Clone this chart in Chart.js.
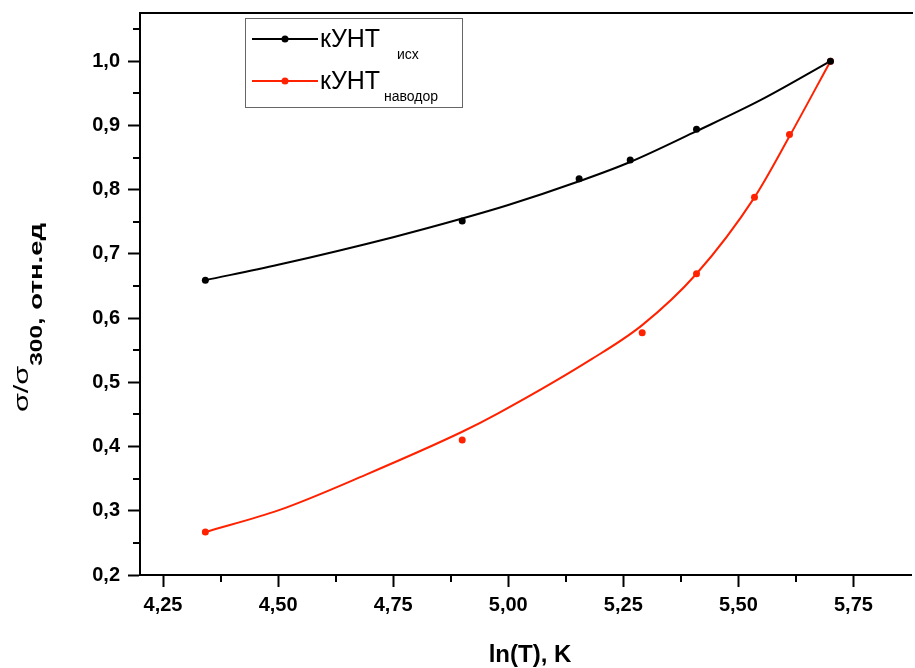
<!DOCTYPE html>
<html lang="ru">
<head>
  <meta charset="UTF-8" />
  <title>σ/σ300 vs ln(T)</title>
  <script src="https://cdn.jsdelivr.net/npm/chart.js"></script>
  <style>
    body { margin: 0; background: #fff; overflow: hidden; }
    .wrap { width: 915px; height: 668px; position: relative; }
  </style>
</head>
<body>
  <div class="wrap"><canvas id="chart"></canvas></div>

  <script>
    // measured points
    const xIsh = [4.342, 4.900, 5.154, 5.265, 5.409, 5.700];
    const yIsh = [0.659, 0.751, 0.817, 0.846, 0.894, 1.000];
    const xNav = [4.342, 4.900, 5.291, 5.409, 5.535, 5.611, 5.700];
    const yNav = [0.267, 0.410, 0.577, 0.669, 0.788, 0.886, 1.000];

    // fitted curves
    const fitXIsh = [4.342, 4.50, 4.75, 4.90, 5.00, 5.154, 5.265, 5.409, 5.55, 5.70];
    const fitYIsh = [0.659, 0.683, 0.726, 0.755, 0.776, 0.813, 0.843, 0.891, 0.940, 1.000];
    const fitXNav = [4.342, 4.502, 4.690, 4.900, 4.979, 5.181, 5.291, 5.409, 5.535, 5.611, 5.700];
    const fitYNav = [0.267, 0.301, 0.356, 0.423, 0.452, 0.536, 0.589, 0.669, 0.788, 0.883, 1.000];

    const xMinorTicks = [4.375, 4.625, 4.875, 5.125, 5.375, 5.625];
    const yMinorTicks = [0.25, 0.35, 0.45, 0.55, 0.65, 0.75, 0.85, 0.95, 1.05];

    const RED = '#ff2200';
    const FONT = "'Liberation Sans', Arial, sans-serif";

    const pts = (xs, ys) => xs.map((x, i) => ({ x: x, y: ys[i] }));

    const extras = {
      id: 'extras',
      afterDraw(chart) {
        const ctx = chart.ctx;
        const a = chart.chartArea;
        const xs = chart.scales.x, ys = chart.scales.y;
        ctx.save();
        ctx.strokeStyle = '#000';
        ctx.lineWidth = 2;
        // top frame
        ctx.beginPath();
        ctx.moveTo(a.left - 1, a.top);
        ctx.lineTo(a.right + 2, a.top);
        ctx.stroke();
        // minor ticks
        ctx.beginPath();
        xMinorTicks.forEach(v => {
          const p = Math.round(xs.getPixelForValue(v));
          ctx.moveTo(p, a.bottom);
          ctx.lineTo(p, a.bottom + 7);
        });
        yMinorTicks.forEach(v => {
          const p = Math.round(ys.getPixelForValue(v));
          ctx.moveTo(a.left, p);
          ctx.lineTo(a.left - 7, p);
        });
        ctx.stroke();

        // x title
        ctx.fillStyle = '#000';
        ctx.font = 'bold 24px ' + FONT;
        ctx.textAlign = 'center';
        ctx.textBaseline = 'alphabetic';
        ctx.fillText('ln(T), K', 530, 662);

        // y title, rotated
        ctx.textAlign = 'left';
        const parts = [
          { t: 'σ/σ', f: '20px ' + FONT, b: 0 },
          { t: '300', f: 'bold 16px ' + FONT, b: 14 },
          { t: ', отн.ед', f: 'bold 18px ' + FONT, b: 14 }
        ];
        let total = 0;
        parts.forEach(p => { ctx.font = p.f; p.w = ctx.measureText(p.t).width; total += p.w; });
        const sx = 189 / total;
        ctx.save();
        ctx.translate(0, 412);
        ctx.rotate(-Math.PI / 2);
        ctx.scale(sx, 1);
        let cx = 0;
        parts.forEach(p => {
          ctx.font = p.f;
          ctx.fillText(p.t, cx, 28 + p.b);
          cx += p.w;
        });
        ctx.restore();

        // legend
        ctx.lineWidth = 1;
        ctx.strokeStyle = '#666';
        ctx.strokeRect(245.5, 18.5, 217, 89);
        const rows = [
          { c: '#000', y: 39, base: 47, sub: 'исх', subX: 397, subBase: 59 },
          { c: RED, y: 81, base: 89, sub: 'наводор', subX: 384, subBase: 101 }
        ];
        rows.forEach(r => {
          ctx.strokeStyle = r.c;
          ctx.lineWidth = 2;
          ctx.beginPath();
          ctx.moveTo(252, r.y);
          ctx.lineTo(318, r.y);
          ctx.stroke();
          ctx.fillStyle = r.c;
          ctx.beginPath();
          ctx.arc(285, r.y, 3.5, 0, Math.PI * 2);
          ctx.fill();
          ctx.fillStyle = '#000';
          ctx.font = '25px ' + FONT;
          ctx.fillText('кУНТ', 320, r.base);
          ctx.font = '14px ' + FONT;
          ctx.fillText(r.sub, r.subX, r.subBase);
        });
        ctx.restore();
      }
    };

    new Chart(document.getElementById('chart'), {
      type: 'scatter',
      data: {
        datasets: [
          { data: pts(fitXIsh, fitYIsh), showLine: true, borderColor: '#000', borderWidth: 2,
            pointRadius: 0, cubicInterpolationMode: 'monotone', order: 2 },
          { data: pts(fitXNav, fitYNav), showLine: true, borderColor: RED, borderWidth: 2,
            pointRadius: 0, cubicInterpolationMode: 'monotone', order: 2 },
          { data: pts(xIsh, yIsh), showLine: false, pointRadius: 3.5, pointBackgroundColor: '#000',
            pointBorderWidth: 0, order: 1 },
          { data: pts(xNav, yNav), showLine: false, pointRadius: 3.5, pointBackgroundColor: RED,
            pointBorderWidth: 0, order: 1 }
        ]
      },
      options: {
        responsive: true,
        maintainAspectRatio: false,
        animation: false,
        layout: { padding: { top: 13, right: 0, bottom: 0, left: 0 } },
        plugins: { legend: { display: false }, tooltip: { enabled: false } },
        scales: {
          x: {
            type: 'linear', min: 4.2, max: 5.875,
            afterFit: s => { s.height = 93; s.paddingLeft = 0; s.paddingRight = 0; },
            grid: { drawOnChartArea: false, tickLength: 12, tickWidth: 2, tickColor: '#000' },
            border: { color: '#000', width: 2 },
            ticks: {
              stepSize: 0.25, includeBounds: false, padding: 6, color: '#000',
              font: { family: FONT, size: 20, weight: 'bold' },
              callback: v => v.toFixed(2).replace('.', ',')
            }
          },
          y: {
            type: 'linear', min: 0.2, max: 1.075,
            afterFit: s => { s.width = 140; s.paddingTop = 0; s.paddingBottom = 0; },
            grid: { drawOnChartArea: false, tickLength: 12, tickWidth: 2, tickColor: '#000' },
            border: { color: '#000', width: 2 },
            ticks: {
              stepSize: 0.1, includeBounds: false, padding: 8, color: '#000',
              font: { family: FONT, size: 20, weight: 'bold' },
              callback: v => v.toFixed(1).replace('.', ',')
            }
          }
        }
      },
      plugins: [extras]
    });
  </script>
</body>
</html>
